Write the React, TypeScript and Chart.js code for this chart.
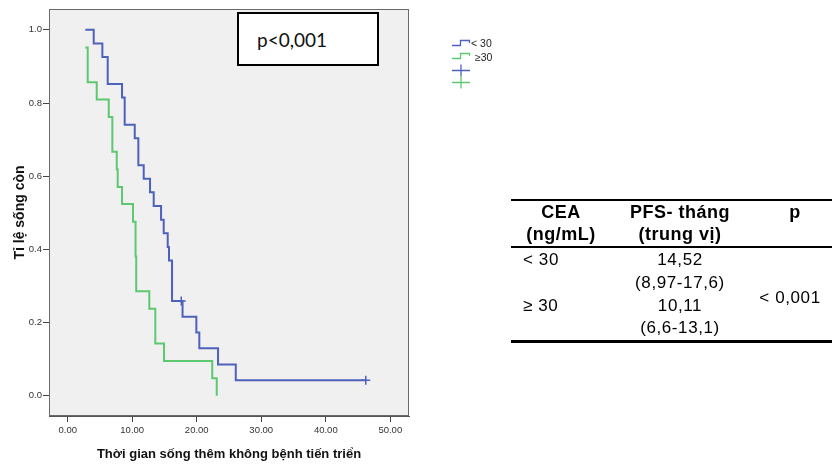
import React, { useEffect, useRef } from "react";
import { Chart, registerables } from "chart.js";

Chart.register(...registerables);

// ---- Data ----
const xTickValues = [0, 10, 20, 30, 40, 50];
const yTickValues = [0, 0.2, 0.4, 0.6, 0.8, 1.0];

const groupLabels = ["< 30", "≥30"];

// CEA < 30 group: Kaplan–Meier steps (time, survival after the step), censor flags
const lowTimes = [2.73, 4.03, 5.37, 6.2, 8.42, 8.83, 10.39, 10.95, 11.78, 12.76, 13.33, 14.47, 14.88, 15.5, 15.7, 16.17, 17.6, 17.8, 19.94, 20.4, 23.3, 26.05, 46.2];
const lowSurv = [1.0, 0.963, 0.926, 0.852, 0.815, 0.741, 0.704, 0.63, 0.593, 0.556, 0.519, 0.481, 0.444, 0.407, 0.37, 0.259, 0.259, 0.216, 0.173, 0.13, 0.086, 0.043, 0.043];
const lowCensored = [0, 0, 0, 0, 0, 0, 0, 0, 0, 0, 0, 0, 0, 0, 0, 0, 1, 0, 0, 0, 0, 0, 1];

// CEA >= 30 group
const highTimes = [2.73, 3.1, 4.5, 6.36, 6.92, 7.6, 7.75, 8.42, 10.12, 10.52, 10.62, 12.65, 13.58, 14.93, 22.4, 23.1];
const highSurv = [0.952, 0.857, 0.81, 0.762, 0.667, 0.619, 0.571, 0.524, 0.476, 0.381, 0.286, 0.238, 0.143, 0.095, 0.048, 0.0];

const xTitle = "Thời gian sống thêm không bệnh tiến triển";
const yTitle = "Tỉ lệ sống còn";
const pText = "p<0,001";

// Table
const tableHead1 = ["CEA", "(ng/mL)"];
const tableHead2 = ["PFS- tháng", "(trung vị)"];
const tableHead3 = "p";
const tableGroups = ["< 30", "≥ 30"];
const tableMedians = ["14,52", "10,11"];
const tableCIs = ["(8,97-17,6)", "(6,6-13,1)"];
const tableP = "< 0,001";

const BLUE = "#4e61bb";
const GREEN = "#5ec870";
const SANS = "'Liberation Sans', Arial, sans-serif";

const framePlugin = {
  id: "frame",
  beforeDraw(chart: any) {
    const { ctx, chartArea: a } = chart;
    ctx.save();
    ctx.fillStyle = "#f0f0f0";
    ctx.fillRect(a.left, a.top, a.right - a.left, a.bottom - a.top);
    ctx.restore();
  },
  afterDraw(chart: any) {
    const { ctx, chartArea: a } = chart;
    ctx.save();
    ctx.strokeStyle = "#6a6a6a";
    ctx.lineWidth = 1;
    ctx.strokeRect(a.left + 0.5, a.top + 0.5, a.right - a.left - 1, a.bottom - a.top - 1);
    ctx.restore();
  },
};

function KMChart() {
  const ref = useRef<HTMLCanvasElement | null>(null);
  useEffect(() => {
    const canvas = ref.current;
    if (!canvas) return;
    const chart = new Chart(canvas, {
      type: "line",
      data: {
        datasets: [
          {
            label: groupLabels[0],
            data: lowTimes.map((t, i) => ({ x: t, y: lowSurv[i] })),
            borderColor: BLUE,
            borderWidth: 2,
            stepped: true,
            fill: false,
            pointStyle: "cross",
            pointRadius: lowCensored.map((c) => (c ? 4.5 : 0)),
            pointBorderColor: BLUE,
            pointBorderWidth: 1.5,
            pointHoverRadius: 0,
          },
          {
            label: groupLabels[1],
            data: highTimes.map((t, i) => ({ x: t, y: highSurv[i] })),
            borderColor: GREEN,
            borderWidth: 2,
            stepped: true,
            fill: false,
            pointRadius: 0,
            pointHoverRadius: 0,
          },
        ],
      },
      options: {
        animation: false,
        responsive: false,
        devicePixelRatio: 1,
        layout: { padding: { top: 9, right: 423, bottom: 0, left: 0 } },
        plugins: { legend: { display: false }, tooltip: { enabled: false } },
        scales: {
          x: {
            type: "linear",
            min: -2.9,
            max: 52.9,
            afterBuildTicks: (s: any) => {
              s.ticks = xTickValues.map((v) => ({ value: v }));
            },
            afterFit: (s: any) => {
              s.height = 48;
            },
            grid: { drawOnChartArea: false, drawTicks: true, tickLength: 6, color: "#444" },
            border: { display: true, color: "#555", width: 1 },
            ticks: {
              autoSkip: false,
              maxRotation: 0,
              padding: 3,
              color: "#333",
              font: { family: SANS, size: 9.5 },
              callback: (v: any) => Number(v).toFixed(2),
            },
            title: {
              display: true,
              text: xTitle,
              color: "#111",
              font: { family: SANS, size: 13, weight: "bold" },
              padding: { top: 0, bottom: 2 },
            },
          },
          y: {
            type: "linear",
            min: -0.055,
            max: 1.057,
            afterBuildTicks: (s: any) => {
              s.ticks = yTickValues.map((v) => ({ value: v }));
            },
            afterFit: (s: any) => {
              s.width = 49;
            },
            grid: { drawOnChartArea: false, drawTicks: true, tickLength: 6, color: "#444" },
            border: { display: true, color: "#555", width: 1 },
            ticks: {
              autoSkip: false,
              padding: 1,
              color: "#333",
              font: { family: SANS, size: 9.5 },
              callback: (v: any) => Number(v).toFixed(1),
            },
            title: {
              display: true,
              text: yTitle,
              color: "#111",
              font: { family: SANS, size: 14, weight: "bold" },
              padding: { top: 12, bottom: 0 },
            },
          },
        },
      },
      plugins: [framePlugin],
    } as any);
    return () => chart.destroy();
  }, []);
  return <canvas ref={ref} width={832} height={464} style={{ position: "absolute", left: 0, top: 0, width: 832, height: 464 }} />;
}

const abs = (left: number, top: number, extra: React.CSSProperties = {}): React.CSSProperties => ({
  position: "absolute",
  left,
  top,
  whiteSpace: "nowrap",
  ...extra,
});

function Legend() {
  const textStyle: React.CSSProperties = { fontFamily: SANS, fontSize: 10.5, color: "#222", lineHeight: "12px" };
  return (
    <>
      <svg style={abs(450, 36)} width={24} height={56}>
        <path d="M2 9.5 H10.5 V4.5 H19.5 V7" fill="none" stroke={BLUE} strokeWidth={1.3} />
        <path d="M2 22.5 H10.5 V17.5 H19.5 V20" fill="none" stroke={GREEN} strokeWidth={1.3} />
        <path d="M2 34.5 H20 M11 28.5 V40.5" fill="none" stroke={BLUE} strokeWidth={1.3} />
        <path d="M2 46.5 H20 M11 40.5 V52.5" fill="none" stroke={GREEN} strokeWidth={1.3} />
      </svg>
      <div style={abs(471, 37, textStyle)}>{groupLabels[0]}</div>
      <div style={abs(475, 51, textStyle)}>{groupLabels[1]}</div>
    </>
  );
}

function PBox() {
  return (
    <div
      style={abs(237, 12, {
        width: 142,
        height: 54,
        boxSizing: "border-box",
        border: "2px solid #000",
        background: "#fff",
        display: "flex",
        alignItems: "center",
        paddingLeft: 18,
        fontFamily: "Lato, 'Open Sans', sans-serif",
        fontSize: 19,
        color: "#111",
      })}
    >
      {pText}
    </div>
  );
}

function Table() {
  const base: React.CSSProperties = { fontFamily: SANS, fontSize: 17, letterSpacing: "0.6px", color: "#000", lineHeight: "20px", height: 20 };
  const head: React.CSSProperties = { ...base, fontSize: 18, fontWeight: "bold", letterSpacing: "0.5px" };
  const centered = (cx: number, cy: number, style: React.CSSProperties, text: string, w = 160) => (
    <div style={abs(cx - w / 2, cy - 10, { ...style, width: w, textAlign: "center" })}>{text}</div>
  );
  const rowY = [260, 283, 306, 328];
  return (
    <>
      <div style={abs(511, 199, { width: 321, height: 2, background: "#000" })} />
      <div style={abs(511, 246, { width: 321, height: 2, background: "#000" })} />
      <div style={abs(511, 340, { width: 321, height: 3, background: "#000" })} />
      {centered(561, 212, head, tableHead1[0])}
      {centered(561, 234, head, tableHead1[1])}
      {centered(680, 212, head, tableHead2[0])}
      {centered(680, 234, head, tableHead2[1])}
      {centered(795, 212, head, tableHead3, 60)}
      <div style={abs(523, rowY[0] - 10, base)}>{tableGroups[0]}</div>
      {centered(680, rowY[0], base, tableMedians[0])}
      {centered(680, rowY[1], base, tableCIs[0])}
      <div style={abs(523, rowY[2] - 10, base)}>{tableGroups[1]}</div>
      {centered(680, rowY[2], base, tableMedians[1])}
      {centered(680, rowY[3], base, tableCIs[1])}
      {centered(790, 298, base, tableP, 90)}
    </>
  );
}

export default function App() {
  return (
    <div style={{ position: "absolute", left: 0, top: 0, width: 832, height: 464, background: "#fff", overflow: "hidden" }}>
      <KMChart />
      <PBox />
      <Legend />
      <Table />
    </div>
  );
}
